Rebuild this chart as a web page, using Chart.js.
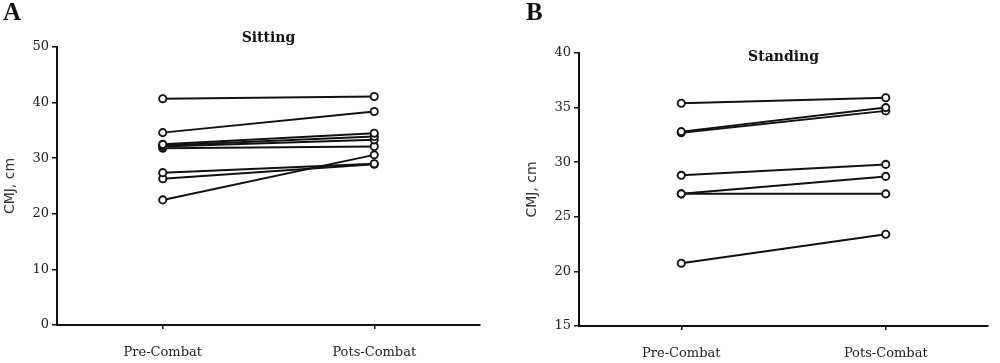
<!DOCTYPE html>
<html>
<head>
<meta charset="utf-8">
<script src="https://cdn.jsdelivr.net/npm/chart.js@4/dist/chart.umd.min.js"></script>
<style>
  body { margin: 0; background: #fff; }
  .wrap { position: relative; width: 1000px; height: 363px; }
  .panel { position: absolute; top: 0; width: 500px; height: 363px; }
  .letter { position: absolute; top: -2px; font: bold 25px "Liberation Serif", serif; color: #111; }
</style>
</head>
<body>
<div class="wrap">
  <div class="panel" style="left:0"><canvas id="sittingChart" width="500" height="363"></canvas></div>
  <div class="panel" style="left:500px"><canvas id="standingChart" width="500" height="363"></canvas></div>
  <div class="letter" style="left:3px">A</div>
  <div class="letter" style="left:526px">B</div>
</div>
<script>
const categories = ["Pre-Combat", "Pots-Combat"];

// one value per subject, pre and post
const sittingPre = [40.7, 34.6, 32.5, 32.3, 32.1, 31.8, 27.4, 26.3, 22.5];
const sittingPost = [41.1, 38.4, 34.5, 33.9, 33.3, 32.1, 29.0, 28.9, 30.6];
const sittingTicks = [0, 10, 20, 30, 40, 50];

const standingPre = [35.4, 32.8, 32.7, 28.8, 27.1, 27.1, 20.75];
const standingPost = [35.9, 35.0, 34.7, 29.8, 28.7, 27.1, 23.4];
const standingTicks = [15, 20, 25, 30, 35, 40];

const panelTitle = {
  id: "panelTitle",
  afterDraw(chart, args, opts) {
    const ctx = chart.ctx;
    const area = chart.chartArea;
    ctx.save();
    ctx.font = "bold 14px 'DejaVu Serif'";
    ctx.fillStyle = "#111";
    ctx.textAlign = "center";
    ctx.textBaseline = "middle";
    ctx.fillText(opts.text, (area.left + area.right) / 2, opts.y);
    ctx.restore();
  },
};

function makeChart(canvasId, pre, post, ticks, title, titleY, box) {
  const datasets = pre.map((v, i) => ({
    data: [
      { x: 1, y: v },
      { x: 3, y: post[i] },
    ],
    borderColor: "#111",
    borderWidth: 2,
    pointRadius: 3.6,
    pointBorderWidth: 1.9,
    pointBackgroundColor: "#fff",
    pointBorderColor: "#111",
  }));

  return new Chart(document.getElementById(canvasId), {
    type: "line",
    data: { datasets },
    plugins: [panelTitle],
    options: {
      responsive: false,
      animation: false,
      layout: { padding: { top: box.top, right: box.right, bottom: 0, left: 0 } },
      plugins: {
        legend: { display: false },
        tooltip: { enabled: false },
        panelTitle: { text: title, y: titleY },
      },
      scales: {
        x: {
          type: "linear",
          min: 0,
          max: 4,
          afterBuildTicks: (scale) => {
            scale.ticks = [{ value: 1 }, { value: 3 }];
          },
          afterFit: (scale) => {
            scale.height = box.xHeight;
          },
          ticks: {
            callback: (value) => categories[(value - 1) / 2],
            color: "#222",
            font: { family: "DejaVu Serif", size: 13 },
            padding: 16,
            maxRotation: 0,
          },
          grid: { drawOnChartArea: false, drawTicks: true, tickLength: 4, color: "#111", lineWidth: 1.5 },
          border: { display: true, color: "#111", width: 2 },
        },
        y: {
          min: ticks[0],
          max: ticks[ticks.length - 1],
          afterBuildTicks: (scale) => {
            scale.ticks = ticks.map((t) => ({ value: t }));
          },
          afterFit: (scale) => {
            scale.width = box.yWidth;
          },
          ticks: {
            color: "#222",
            font: { family: "DejaVu Serif", size: 13 },
            padding: 3,
          },
          title: {
            display: true,
            text: "CMJ, cm",
            color: "#333",
            font: { family: "DejaVu Sans", size: 14 },
            padding: { top: box.titlePad, bottom: 0 },
          },
          grid: { drawOnChartArea: false, drawTicks: true, tickLength: 5, color: "#111", lineWidth: 1.5 },
          border: { display: true, color: "#111", width: 2 },
        },
      },
    },
  });
}

makeChart("sittingChart", sittingPre, sittingPost, sittingTicks, "Sitting", 38,
  { top: 47, right: 20, yWidth: 57, xHeight: 38, titlePad: 2 });
makeChart("standingChart", standingPre, standingPost, standingTicks, "Standing", 57,
  { top: 53, right: 12, yWidth: 79, xHeight: 37, titlePad: 24 });
</script>
</body>
</html>
